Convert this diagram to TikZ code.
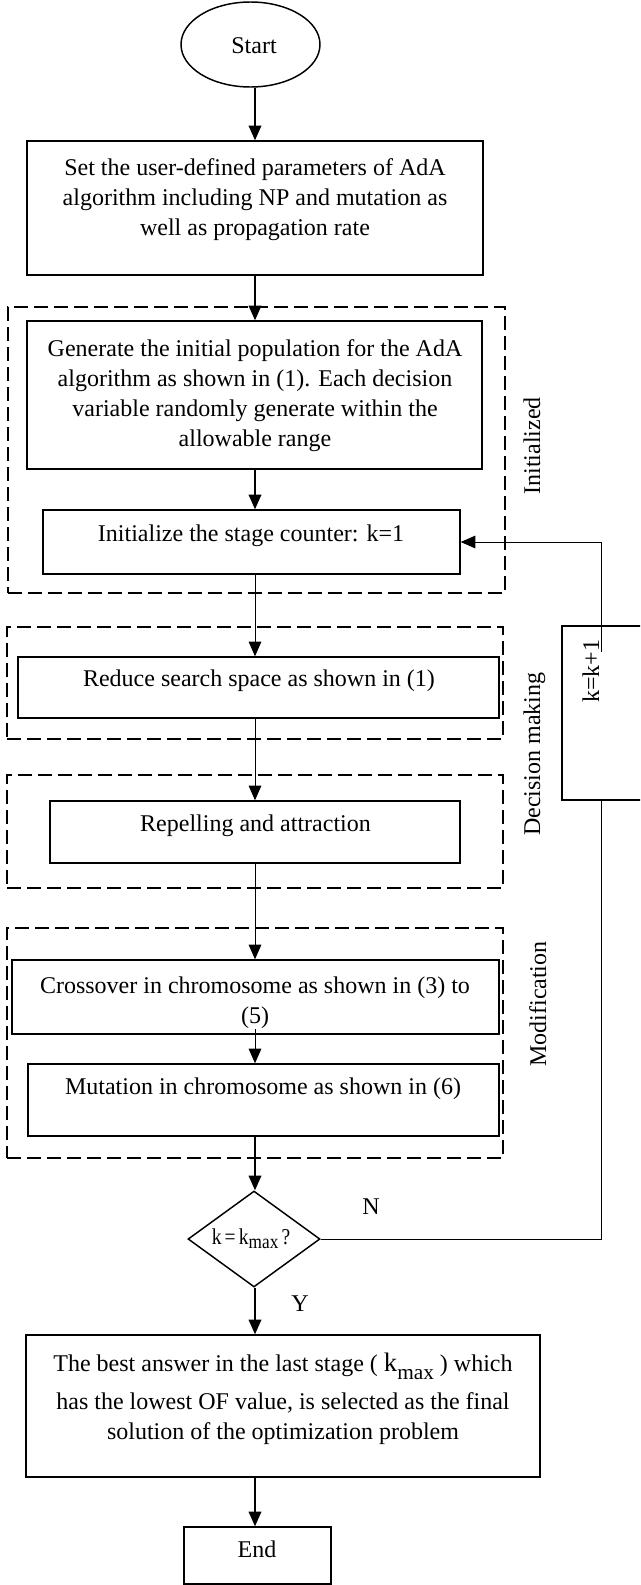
\documentclass[tikz,border=0pt]{standalone}
\usepackage{fontspec}
\setmainfont{Liberation Serif}
\usetikzlibrary{arrows.meta,shapes.geometric}
\begin{document}
\begin{tikzpicture}[x=0.75pt,y=-0.75pt,
  sz/.style 2 args={minimum width=#1*0.75pt,minimum height=#2*0.75pt},
  box/.style={draw,line width=1.1pt,inner sep=0pt},
  dbox/.style={draw,line width=1pt,dash pattern=on 10.5pt off 4.5pt,inner sep=0pt},
  txt/.style={inner sep=0pt,font=\fontsize{18}{22.5}\selectfont,align=center},
  stxt/.style={txt,text height=0.7em,text depth=0.25em},
  lab/.style={stxt,rotate=90},
  arrthick/.style={line width=1.2pt,-{Triangle[length=11pt,width=9.5pt]}},
  arrthin/.style={line width=0.75pt,-{Triangle[length=11pt,width=9.5pt]}},
  fb/.style={line width=0.75pt}
]
\useasboundingbox (0,0) rectangle (640,1585);
\clip (0,0) rectangle (640,1585);
\coordinate (ax) at (255,0);
\coordinate (fbx) at (601,0);

% start
\node[ellipse,draw,line width=1.1pt,inner sep=0pt,sz={139}{85}] (start) at (250.5,44.5) {};
\node[stxt] (tstart) at (254,50) {Start};

% box 1
\node[box,sz={456}{134}] (b1) at (255,208) {};
\node[txt,anchor=north] (t1) at (255,158) {Set the user-defined parameters of AdA\\algorithm including NP and mutation as\\well as propagation rate};

% dashed groups
\node[dbox,sz={497}{286}] (d1) at (256.5,450) {};
\node[dbox,sz={496}{112}] (d2) at (255,683) {};
\node[dbox,sz={496}{113}] (d3) at (255,831.5) {};
\node[dbox,sz={496}{230}] (d4) at (255,1043) {};

% box 2
\node[box,sz={455}{148}] (b2) at (254.5,395) {};
\node[txt,anchor=north] (t2) at (255,339) {Generate the initial population for the AdA\\algorithm as shown in (1). Each decision\\variable randomly generate within the\\allowable range};

% box 3
\node[box,sz={417}{64}] (b3) at (251.5,542) {};
\node[stxt] (t3) at (251,538) {Initialize the stage counter: k=1};

% box 4
\node[box,sz={481}{61}] (b4) at (258.5,687.5) {};
\node[stxt] (t4) at (259,683) {Reduce search space as shown in (1)};

% box 5
\node[box,sz={410}{62}] (b5) at (255,832) {};
\node[stxt] (t5) at (255.5,828) {Repelling and attraction};

% box 6
\node[box,sz={487}{74}] (b6) at (255.5,997) {};
\node[txt,anchor=north] (t6) at (255,977) {Crossover in chromosome as shown in (3) to\\(5)};

% box 7
\node[box,sz={471}{72}] (b7) at (263.5,1100) {};
\node[stxt] (t7) at (263,1091) {Mutation in chromosome as shown in (6)};

% decision
\node[diamond,draw,line width=1.1pt,inner sep=0pt,sz={132}{96}] (dia) at (254,1239) {};
\node[inner sep=0pt,font=\fontsize{17}{19}\selectfont] (tdia) at (251,1239) {\scalebox{0.86}[1]{k\,=\,k\raisebox{-0.4ex}{\fontsize{15}{17}\selectfont max}\,?}};
\node[stxt] (nlab) at (371,1211) {N};
\node[stxt] (ylab) at (300,1308) {Y};

% box 8
\node[box,sz={514}{142}] (b8) at (283,1406) {};
\node[txt,anchor=north] (t8) at (283,1353) {The best answer in the last stage ( {\fontsize{20}{22}\selectfont k\raisebox{-5.5pt}{\fontsize{16}{18}\selectfont max}} ) which\\[6pt]has the lowest OF value, is selected as the final\\solution of the optimization problem};

% end
\node[box,sz={147}{57}] (end) at (257.5,1555.5) {};
\node[stxt] (tend) at (257,1554) {End};

% k = k+1 box
\node[box,sz={88}{174}] (kb) at (606,713) {};
\node[lab] (kk) at (596,671) {k=k+1};
\coordinate (fbtop) at (601,652);

% group labels
\node[lab] (l1) at (537,446) {Initialized};
\node[lab] (l2) at (537,754) {Decision making};
\node[lab] (l3) at (543,1004) {Modification};

% main flow
\draw[arrthick] (start.south -| ax) -- (b1.north -| ax);
\draw[arrthick] (b1.south -| ax) -- (b2.north -| ax);
\draw[arrthick] (b2.south -| ax) -- (b3.north -| ax);
\draw[arrthin] (b3.south -| ax) -- (b4.north -| ax);
\draw[arrthin] (b4.south -| ax) -- (b5.north -| ax);
\draw[arrthin] (b5.south -| ax) -- (b6.north -| ax);
\draw[arrthin] (t6.south -| ax) -- (b7.north -| ax);
\draw[arrthick] (b7.south -| ax) -- (dia.north -| ax);
\draw[arrthick] (dia.south -| ax) -- (b8.north -| ax);
\draw[arrthick] (b8.south -| ax) -- (end.north -| ax);

% feedback loop
\draw[fb] (dia.east) -- (dia.east -| fbx) -- (kb.south -| fbx);
\draw[arrthin] (fbtop) -- (fbtop |- b3.east) -- (b3.east);
\end{tikzpicture}
\end{document}
